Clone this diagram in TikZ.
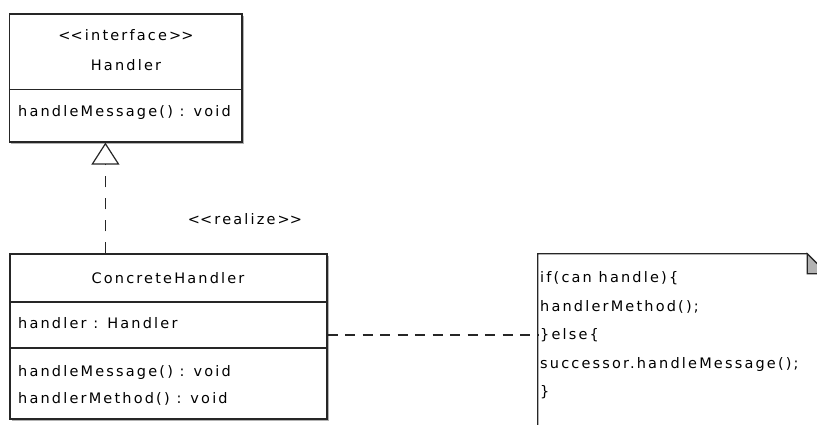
\documentclass[tikz,border=0pt]{standalone}
\usepackage{fontspec}
\setmainfont{DejaVu Sans}[LetterSpace=15]
\usetikzlibrary{arrows.meta,shadows,calc}

\begin{document}
\begin{tikzpicture}[x=1pt,y=-1pt,
  ink/.style={black!85, line width=1.2pt},
  classbox/.style={ink, draw, fill=white, inner sep=0pt,
    drop shadow={shadow xshift=1.6pt, shadow yshift=-1.6pt, fill=black!30, opacity=1}},
  label/.style={inner sep=0pt, text height=10.5pt, text depth=3pt,
    font=\fontsize{14.5}{16}\selectfont, text=black},
  member/.style={label, anchor=west},
  realizeline/.style={ink, dash pattern=on 11pt off 11pt,
    -{Triangle[open, width=28pt, length=22pt, line width=1.2pt, fill=white]}},
  noteline/.style={ink, dash pattern=on 10pt off 7.5pt},
]
  \useasboundingbox (0,0) rectangle (817,425);
  \clip (0,0) rectangle (817,425);

  % interface Handler
  \node[classbox, minimum width=232.5pt, minimum height=128pt] (handler) at (125.75,78) {};
  \draw[ink] ($(handler.north west)+(0,76)$) coordinate (hsep) -- (hsep -| handler.east);
  \node[label] (hstereo) at (126,37) {<\kern0pt<interface>\kern0pt>};
  \node[label] (hname) at (126,67) {Handler};
  \node[member] (hop) at (18,113) {handleMessage() : void};

  % class ConcreteHandler
  \node[classbox, minimum width=317pt, minimum height=165pt] (concrete) at (168.5,336.5) {};
  \draw[ink] ($(concrete.north west)+(0,48.5)$) coordinate (csep1) -- (csep1 -| concrete.east);
  \draw[ink] ($(concrete.north west)+(0,94.5)$) coordinate (csep2) -- (csep2 -| concrete.east);
  \node[label] (cname) at (168,280) {ConcreteHandler};
  \node[member] (cattr) at (18,325) {handler : Handler};
  \node[member] (cop1) at (18,373) {handleMessage() : void};
  \node[member] (cop2) at (18,400) {handlerMethod() : void};

  % realization
  \draw[realizeline] ($(concrete.north west)+(96,0)$) -- ($(handler.south west)+(96.5,0)$);
  \node[label] (realize) at (245,221) {<\kern0pt<realize>\kern0pt>};

  % note with folded corner
  \node[minimum width=289pt, minimum height=206pt, inner sep=0pt] (note) at (682.5,357) {};
  \fill[white] (note.south west) -- (note.north west) -- ($(note.north east)+(-20,0)$)
     -- ($(note.north east)+(0,20)$) -- (note.south east) -- cycle;
  \draw[ink] (note.south west) -- (note.north west) -- ($(note.north east)+(-20,0)$)
     -- ($(note.north east)+(0,20)$) -- (note.south east);
  \filldraw[ink, fill=black!30] ($(note.north east)+(-20,0)$) -- ($(note.north east)+(-20,20)$)
     -- ($(note.north east)+(0,20)$) -- cycle;
  \node[member] (n1) at (540,279) {if(can handle)\{};
  \node[member] (n2) at (540,307.5) {handlerMethod();};
  \node[member] (n3) at (540,336) {\}else\{};
  \node[member] (n4) at (540,364.5) {successor.handleMessage();};
  \node[member] (n5) at (540,393) {\}};

  % attachment of the note
  \draw[noteline] (concrete.east |- 0,335) -- (note.west |- 0,335);
\end{tikzpicture}
\end{document}
